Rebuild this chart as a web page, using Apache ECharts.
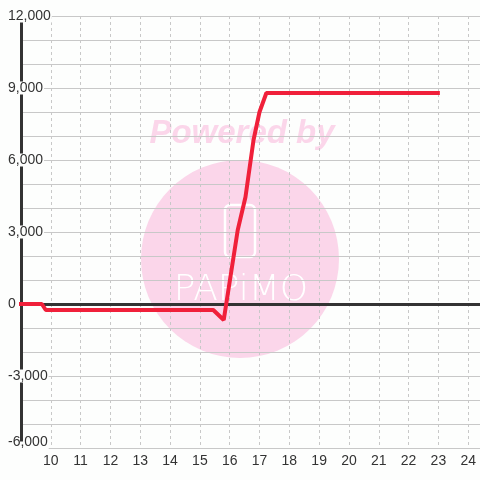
<!DOCTYPE html>
<html><head><meta charset="utf-8">
<script src="https://cdn.jsdelivr.net/npm/echarts@6/dist/echarts.min.js"></script>
<style>html,body{margin:0;padding:0;background:#fdfefd;overflow:hidden;width:480px;height:480px}#c{width:501px;height:480px}</style>
</head><body><div id="c"></div>
<script>
const xValues = [8.9, 9.7, 9.83, 15.45, 15.8, 16.27, 16.53, 16.8, 17.0, 17.23, 23.05];
const yValues = [0, 0, -250, -250, -667, 3083, 4458, 6833, 8000, 8792, 8792];
const xTickLabels = [10, 11, 12, 13, 14, 15, 16, 17, 18, 19, 20, 21, 22, 23, 24];
const yTickLabels = [-6000, -3000, 0, 3000, 6000, 9000, 12000];

const bg = '#fdfefd';
const chart = echarts.init(document.getElementById('c'), null, {renderer: 'canvas'});
const seriesData = xValues.map((x, i) => [x, yValues[i]]);

chart.setOption({
  backgroundColor: bg,
  animation: false,
  grid: {left: 21, right: 0, top: 16, bottom: 32, containLabel: false},
  xAxis: [{
    type: 'value', min: 9, max: 25, interval: 1, position: 'bottom',
    axisLine: {show: false, onZero: false},
    axisTick: {show: false},
    axisLabel: {
      margin: 6, fontSize: 14, color: '#333', fontFamily: 'Liberation Sans, Arial, sans-serif',
      formatter: v => xTickLabels.includes(v) ? String(v) : ''
    },
    splitLine: {show: true, lineStyle: {color: '#c8c8c8', width: 1, type: [3, 3]}}
  }, {
    type: 'value', min: 9, max: 25, interval: 1, position: 'top',
    axisLine: {show: true, onZero: true, lineStyle: {color: '#333', width: 3}},
    axisTick: {show: false}, axisLabel: {show: false}, splitLine: {show: false}
  }],
  yAxis: {
    type: 'value', min: -6000, max: 12000, interval: 1000,
    axisLine: {show: true, onZero: false, lineStyle: {color: '#333', width: 3}},
    axisTick: {show: false},
    axisLabel: {
      align: 'left', margin: 14, fontSize: 14, color: '#333',
      fontFamily: 'Liberation Sans, Arial, sans-serif',
      backgroundColor: bg, padding: [0, 1], lineHeight: 13,
      formatter: v => {
        if (!yTickLabels.includes(v)) return '';
        const s = v.toLocaleString('en-US');
        return v === yTickLabels[0] ? '{low|' + s + '}' : s;
      },
      rich: {low: {fontSize: 14, color: '#333', fontFamily: 'Liberation Sans, Arial, sans-serif', lineHeight: 13, padding: [0, 0, 12, 0]}}
    },
    splitLine: {show: true, lineStyle: {color: '#c8c8c8', width: 1}}
  },
  graphic: [
    {type: 'circle', z: -1, shape: {cx: 240, cy: 259, r: 99}, style: {fill: '#fbd6ea'}, silent: true},
    {type: 'text', z: -1, x: 242, y: 134, silent: true,
      style: {text: 'Powered by', fill: '#fbd6ea', font: 'italic bold 33px "Liberation Sans", Arial, sans-serif', align: 'center', verticalAlign: 'middle'}},
    {type: 'rect', z: -1, silent: true, shape: {x: 225, y: 205, width: 30, height: 52, r: 5},
      style: {fill: 'none', stroke: '#ffffff', lineWidth: 2.5}},
    {type: 'text', z: -1, x: 241, y: 291, silent: true,
      style: {text: 'PAPiMO', fill: '#ffffff', font: '200 36px "DejaVu Sans", sans-serif', align: 'center', verticalAlign: 'middle'}}
  ],
  series: [{
    type: 'line', xAxisIndex: 0, data: seriesData, showSymbol: false, symbol: 'none',
    clip: false,
    lineStyle: {color: '#f0203a', width: 4}, z: 5
  }]
});
</script></body></html>
